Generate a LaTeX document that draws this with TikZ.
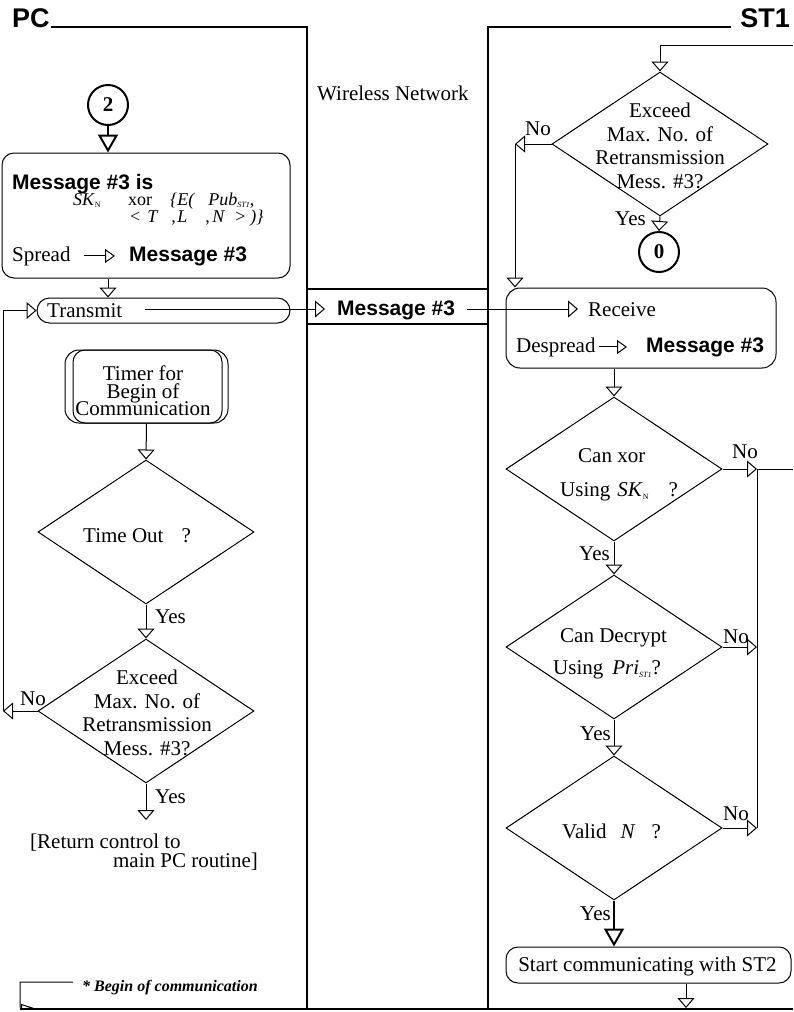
\documentclass[tikz,border=0pt]{standalone}
\usepackage{fontspec}
\setmainfont{Liberation Serif}
\newfontfamily\hvfont{Liberation Sans}
\usetikzlibrary{arrows.meta,shapes.geometric}
% small lowered index used in key names
\newcommand{\lowsub}[1]{\raisebox{-0.35ex}{\fontsize{8}{8}\selectfont #1}}
% let stacked lines sit closer than their glyphs would allow
\newcommand{\tightlines}{\lineskiplimit=-60pt\relax}
\begin{document}
\begin{tikzpicture}[x=1pt,y=-1pt,
  every node/.style={inner sep=0pt,font={\fontsize{21}{23.5}\selectfont\tightlines}},
  conn/.style={line width=1pt},
  lane/.style={line width=2pt},
  arS/.style={conn,-{Triangle[open,length=10pt,width=17pt]}},
  arB/.style={line width=2pt,-{Triangle[open,length=18pt,width=20pt]}},
  arI/.style={conn,-{Triangle[open,length=10pt,width=14pt]}},
  dia/.style={draw,diamond,line width=1pt,minimum width=216pt,minimum height=144pt,inner sep=0pt},
  rbox/.style={draw,rectangle,rounded corners=12pt,line width=1pt},
  conncirc/.style={draw,circle,line width=2pt,minimum size=40pt,font={\fontsize{21}{21}\selectfont\bfseries}},
  bsans/.style={font={\hvfont\bfseries\fontsize{21}{23}\selectfont}},
  title/.style={font={\hvfont\bfseries\fontsize{27}{27}\selectfont}},
  fml/.style={font={\fontsize{18}{18}\selectfont}},
  multi/.style={align=center,font={\fontsize{21}{23.5}\selectfont\tightlines}},
]
\useasboundingbox (0,0) rectangle (793,1012);

% ---------- swim lanes ----------
\node[title,anchor=base west] (pcT) at (12,27) {PC};
\node[title,anchor=base east] (stT) at (790,27) {ST1};
\draw[lane] (51,27) -- (307,27) -- (307,1009);
\draw[lane] (488,1009) -- (488,27) -- (731,27);
\draw[lane] (20,1009) -- (793,1009);
\draw[lane] (307,289) -- (488,289);
\draw[lane] (307,324) -- (488,324);
\node[anchor=base west] (wnet) at (317,100) {Wireless Network};

% ---------- PC side ----------
\node[conncirc] (c2) at (108,105) {2};
\node[rbox,minimum width=288pt,minimum height=125pt] (msg) at (146,215.5) {};
\node[bsans,anchor=base west] (msgT) at (12,189) {Message \#3 is};
\node[fml,anchor=base west] (f1) at (73,205) {\textit{SK}\lowsub{N}};
\node[fml,anchor=base west] (f2) at (128,205) {xor};
\node[fml,anchor=base west] (f3) at (170,205) {\textit{\{E(\hspace{14pt}Pub}\lowsub{\textit{ST1}},};
\node[fml,anchor=base west] (f4) at (130,222) {<\hspace{7pt}\textit{T}\hspace{13pt},\hspace{1.5pt}\textit{L}\hspace{18pt},\hspace{2.5pt}\textit{N}\hspace{10pt}>\hspace{5pt}\textit{)\}}};
\node[anchor=base west] (spr) at (12,261) {Spread};
\node[bsans,anchor=base west] (sprM) at (129,261) {Message \#3};
\draw[arI,shorten <=13pt,shorten >=14pt] (spr.east) -- (spr.east -| sprM.west);

\node[rbox,rounded corners=12.5pt,minimum width=253pt,minimum height=25pt] (trans) at (163.5,310.5) {};
\node[anchor=base west] (trT) at (47,317) {Transmit};
\coordinate (trOut) at (145,309);

\node[rbox,rounded corners=14pt,minimum width=163pt,minimum height=73pt] (timer) at (146.5,386.5) {};
\node[rbox,rounded corners=12pt,minimum width=149pt,minimum height=73pt] (timerIn) at (147.5,386.5) {};
\node[align=center,font={\fontsize{21}{17.5}\selectfont\tightlines}] (timerT) at (143,391) {Timer for\\Begin of\\Communication};

\node[dia] (dTO) at (146,532) {};
\node[anchor=base west] (dTOt) at (83,542) {Time Out\hspace{18pt}?};

\node[dia] (dE1) at (146,711) {};
\node[multi] (dE1t) at (147,713) {Exceed\\Max. No. of\\Retransmission\\Mess. \#3?};

\node[anchor=base west] (yes1) at (155,623) {Yes};
\node[anchor=base west] (yes2) at (155,803) {Yes};
\node[anchor=base west] (no1) at (20,705) {No};

\coordinate (retTip) at (146,820);
\node[anchor=base west] (ret1) at (30,848) {[Return control to};
\node[anchor=base east] (ret2) at (258,867) {main PC routine]};

\node[anchor=base west,font={\fontsize{16}{16}\selectfont\bfseries\itshape}] (legend) at (82,991) {* Begin of communication};
\coordinate (lgA) at (73,982);
\coordinate (lgB) at (20,1007);
\coordinate (lgC) at (34,1008);
\draw[conn,-{Triangle[open,length=13pt,width=6pt]}] (lgA) -| (lgB) -- (lgC);

\draw[arB] (c2.south) -- (c2.south |- msg.north);
\draw[arS] (c2.south |- msg.south) -- (c2.south |- trans.north);
\draw[arS] (timer.south) -- (dTO.north);
\draw[arS] (dTO.south) -- (dE1.north);
\draw[arS] (dE1.south) -- (retTip);
\coordinate (loopX) at (3,711);
\draw[arS] (dE1.west) -- (loopX);
\draw[arS] (loopX) |- (trans.west);

% ---------- network ----------
\node[bsans,anchor=base west,inner xsep=12pt] (band) at (325,315) {Message \#3};
\draw[arS] (trOut) -- (trOut -| band.west);

% ---------- ST1 side ----------
\node[rbox,rounded corners=14pt,minimum width=270pt,minimum height=80pt] (recv) at (641,328) {};
\node[anchor=base west,inner xsep=10pt] (rcv) at (578,316) {Receive};
\draw[arS] (trOut -| band.east) -- (trOut -| rcv.west);
\node[anchor=base west] (desp) at (516,352) {Despread};
\node[bsans,anchor=base west] (despM) at (646,352) {Message \#3};
\draw[arI,shorten <=3pt,shorten >=19pt] (desp.east) -- (desp.east -| despM.west);

\node[dia] (dE2) at (660,144) {};
\node[multi] (dE2t) at (660,146) {Exceed\\Max. No. of\\Retransmission\\Mess. \#3?};
\node[conncirc] (c0) at (659,252) {0};
\node[anchor=base west] (no2) at (525,135) {No};
\node[anchor=base west] (yes3) at (615,225) {Yes};

\node[dia] (dX) at (614,469) {};
\node[anchor=base west] (dXa) at (578,462) {Can xor};
\node[anchor=base west] (dXb) at (560,496) {Using\hspace{7pt}\textit{SK}\lowsub{N}\hspace{20pt}?};
\node[anchor=base west] (no3) at (732,458) {No};
\node[anchor=base west] (yes4) at (579,560) {Yes};

\node[dia] (dD) at (614,647) {};
\node[anchor=base west] (dDa) at (560,642) {Can Decrypt};
\node[anchor=base west] (dDb) at (553,674) {Using\hspace{9pt}\textit{Pri}\lowsub{\textit{ST1}}?};
\node[anchor=base west] (no4) at (723,643) {No};
\node[anchor=base west] (yes5) at (580,740) {Yes};

\node[dia] (dV) at (614,828) {};
\node[anchor=base west] (dVt) at (562,838) {Valid\hspace{14pt}\textit{N}\hspace{16pt}?};
\node[anchor=base west] (no5) at (723,820) {No};
\node[anchor=base west] (yes6) at (580,920) {Yes};

\node[rbox,minimum width=285pt,minimum height=36pt] (start) at (648.5,965) {};
\node (startT) at (647.5,966) {Start communicating with ST2};

\coordinate (inTop) at (793,45);
\draw[arS] (inTop) -| (dE2.north);
\coordinate (noX) at (515,144);
\draw[arS] (dE2.west) -- (noX);
\draw[arS] (noX) -- (noX |- recv.north);
\draw[arS] (dE2.south) -- (c0.north);
\draw[arS] (dX.north |- recv.south) -- (dX.north);
\draw[arS] (dX.south) -- (dD.north);
\draw[arS] (dD.south) -- (dV.north);
\draw[arB] (dV.south) -- (dV.south |- start.north);
\coordinate (outBot) at (686,1008);
\draw[arS] (outBot |- start.south) -- (outBot);

\coordinate (rejX) at (757,469);
\coordinate (rejOut) at (793,469);
\draw[arS] (dX.east) -- (rejX);
\draw[conn] (rejX) -- (rejOut);
\draw[conn] (rejX) -- (rejX |- dV.east);
\draw[arS] (dD.east) -- (dD.east -| rejX);
\draw[arS] (dV.east) -- (dV.east -| rejX);
\end{tikzpicture}
\end{document}
